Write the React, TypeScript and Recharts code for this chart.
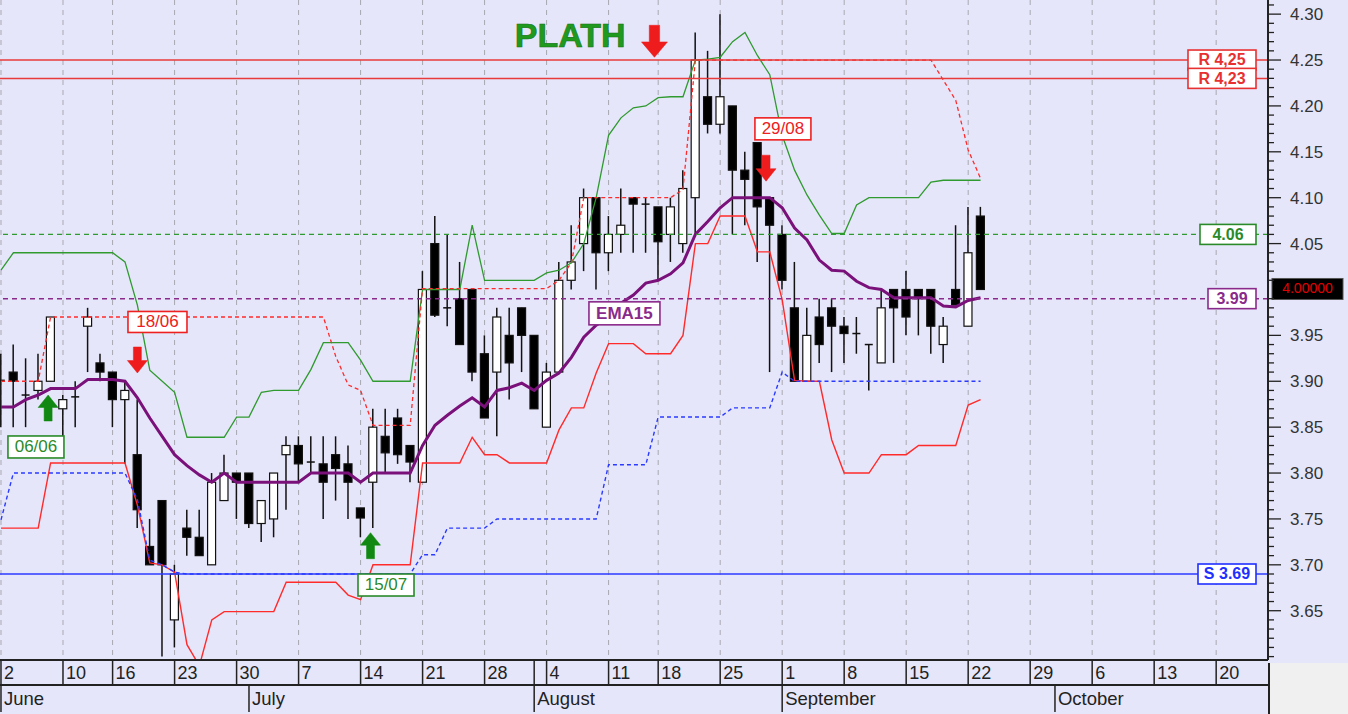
import React from 'react';
import { ComposedChart, Bar, Line, XAxis, YAxis, ReferenceLine, ReferenceDot, CartesianGrid } from 'recharts';

// ---------- data ----------
const opens = [
  3.90, 3.91, 3.885, 3.89, 3.90, 3.87, 3.883, 3.96, 3.92, 3.91,
  3.88, 3.82, 3.72, 3.77, 3.64, 3.74, 3.73, 3.70, 3.77, 3.80,
  3.80, 3.745, 3.75, 3.82, 3.83, 3.812, 3.81, 3.82, 3.81, 3.762,
  3.79, 3.84, 3.86, 3.83, 3.79, 4.05, 3.98, 3.99, 4.00, 3.93,
  3.91, 3.95, 3.98, 3.95, 3.85, 3.91, 4.01, 4.05, 4.10, 4.04,
  4.06, 4.10, 4.093, 4.09, 4.06, 4.05, 4.10, 4.21, 4.18, 4.20,
  4.13, 4.16, 4.10, 4.06, 3.98, 3.90, 3.97, 3.98, 3.96, 3.952,
  3.94, 3.92, 4.00, 4.00, 4.00, 4.00, 3.94, 4.00, 3.96, 4.08,
];
const highs = [
  3.93, 3.94, 3.925, 3.93, 3.97, 3.885, 3.90, 3.98, 3.93, 3.91,
  3.90, 3.88, 3.75, 3.77, 3.70, 3.76, 3.76, 3.80, 3.82, 3.80,
  3.80, 3.77, 3.80, 3.84, 3.84, 3.84, 3.84, 3.84, 3.83, 3.762,
  3.87, 3.87, 3.87, 3.83, 4.02, 4.08, 4.06, 4.03, 4.00, 3.95,
  3.98, 3.98, 3.98, 3.95, 3.92, 4.03, 4.07, 4.11, 4.10, 4.08,
  4.11, 4.10, 4.10, 4.09, 4.10, 4.13, 4.28, 4.26, 4.30, 4.20,
  4.15, 4.16, 4.10, 4.07, 4.03, 3.98, 3.99, 3.99, 3.97, 3.97,
  3.94, 4.00, 4.00, 4.02, 4.00, 4.00, 3.97, 4.07, 4.09, 4.09,
];
const lows = [
  3.85, 3.85, 3.85, 3.88, 3.90, 3.84, 3.85, 3.91, 3.90, 3.85,
  3.81, 3.74, 3.70, 3.60, 3.61, 3.71, 3.71, 3.70, 3.77, 3.75,
  3.74, 3.725, 3.73, 3.76, 3.79, 3.80, 3.75, 3.77, 3.75, 3.73,
  3.74, 3.80, 3.81, 3.79, 3.79, 3.97, 3.96, 3.94, 3.90, 3.86,
  3.84, 3.88, 3.91, 3.87, 3.85, 3.91, 4.00, 4.02, 4.00, 4.02,
  4.04, 4.04, 4.04, 4.01, 4.03, 4.04, 4.06, 4.17, 4.17, 4.06,
  4.07, 4.03, 3.91, 4.00, 3.90, 3.90, 3.92, 3.91, 3.92, 3.93,
  3.89, 3.92, 3.92, 3.95, 3.95, 3.93, 3.92, 3.983, 3.96, 4.00,
];
const closes = [
  3.901, 3.90, 3.885, 3.90, 3.97, 3.88, 3.883, 3.97, 3.91, 3.88,
  3.89, 3.76, 3.70, 3.70, 3.69, 3.73, 3.71, 3.79, 3.80, 3.79,
  3.745, 3.77, 3.80, 3.83, 3.81, 3.812, 3.79, 3.805, 3.79, 3.751,
  3.85, 3.822, 3.82, 3.812, 4.00, 3.972, 3.98, 3.94, 3.91, 3.86,
  3.97, 3.92, 3.95, 3.87, 3.91, 4.01, 4.03, 4.10, 4.04, 4.06,
  4.07, 4.093, 4.093, 4.052, 4.09, 4.11, 4.25, 4.18, 4.21, 4.13,
  4.12, 4.09, 4.07, 4.01, 3.90, 3.95, 3.94, 3.96, 3.952, 3.952,
  3.94, 3.98, 3.98, 3.97, 3.99, 3.96, 3.96, 3.983, 4.04, 4.00,
];
const ema15 = [
  3.872, 3.872, 3.88, 3.885, 3.892, 3.892, 3.892, 3.902, 3.902, 3.902,
  3.90, 3.882, 3.86, 3.84, 3.82, 3.808, 3.798, 3.79, 3.80, 3.79,
  3.79, 3.79, 3.79, 3.79, 3.79, 3.80, 3.80, 3.80, 3.80, 3.79,
  3.80, 3.80, 3.80, 3.80, 3.83, 3.852, 3.863, 3.873, 3.882, 3.872,
  3.89, 3.893, 3.898, 3.89, 3.901, 3.909, 3.926, 3.948, 3.961, 3.97,
  3.985, 3.994, 4.007, 4.01, 4.017, 4.029, 4.06, 4.074, 4.089, 4.10,
  4.10, 4.10, 4.10, 4.089, 4.067, 4.054, 4.032, 4.021, 4.02, 4.009,
  4.002, 4.00, 3.991, 3.991, 3.991, 3.991, 3.982, 3.981, 3.988, 3.991,
];
const upperBand = [
  4.021, 4.04, 4.04, 4.04, 4.04, 4.04, 4.04, 4.04, 4.04, 4.04,
  4.03, 3.983, 3.912, 3.90, 3.888, 3.839, 3.839, 3.839, 3.839, 3.861,
  3.861, 3.888, 3.89, 3.89, 3.89, 3.913, 3.942, 3.942, 3.942, 3.923,
  3.90, 3.90, 3.90, 3.90, 4.00, 4.00, 4.00, 4.00, 4.07, 4.01,
  4.01, 4.01, 4.01, 4.01, 4.018, 4.021, 4.029, 4.05, 4.10, 4.168,
  4.187, 4.198, 4.20, 4.209, 4.21, 4.21, 4.25, 4.251, 4.253, 4.27,
  4.28, 4.255, 4.234, 4.168, 4.13, 4.103, 4.081, 4.061, 4.061, 4.092,
  4.10, 4.10, 4.10, 4.10, 4.10, 4.117, 4.119, 4.119, 4.119, 4.119,
];
const lowerBand = [
  3.74, 3.74, 3.74, 3.74, 3.811, 3.811, 3.811, 3.811, 3.811, 3.811,
  3.811, 3.765, 3.702, 3.70, 3.692, 3.613, 3.59, 3.64, 3.649, 3.649,
  3.649, 3.649, 3.649, 3.681, 3.681, 3.681, 3.681, 3.681, 3.667, 3.662,
  3.70, 3.70, 3.70, 3.70, 3.811, 3.811, 3.811, 3.811, 3.839, 3.82,
  3.82, 3.811, 3.811, 3.811, 3.811, 3.847, 3.871, 3.871, 3.909, 3.941,
  3.941, 3.941, 3.93, 3.93, 3.93, 3.95, 4.05, 4.05, 4.08, 4.08,
  4.08, 4.041, 4.041, 3.989, 3.901, 3.90, 3.90, 3.836, 3.80, 3.80,
  3.80, 3.82, 3.82, 3.82, 3.83, 3.83, 3.83, 3.83, 3.874, 3.88,
];
const highStop = [
  3.90, 3.90, 3.90, 3.90, 3.97, 3.97, 3.97, 3.97, 3.97, 3.97,
  3.97, 3.97, 3.97, 3.97, 3.97, 3.97, 3.97, 3.97, 3.97, 3.97,
  3.97, 3.97, 3.97, 3.97, 3.97, 3.97, 3.97, 3.927, 3.896, 3.89,
  3.852, 3.852, 3.852, 3.852, 4.001, 4.001, 4.001, 4.001, 4.001, 4.001,
  4.001, 4.001, 4.001, 4.001, 4.001, 4.01, 4.029, 4.10, 4.10, 4.10,
  4.10, 4.10, 4.10, 4.10, 4.10, 4.109, 4.25, 4.25, 4.25, 4.25,
  4.25, 4.25, 4.25, 4.25, 4.25, 4.25, 4.25, 4.25, 4.25, 4.25,
  4.25, 4.25, 4.25, 4.25, 4.25, 4.25, 4.228, 4.206, 4.152, 4.121,
];
const lowStop = [
  3.749, 3.80, 3.80, 3.80, 3.80, 3.80, 3.80, 3.80, 3.80, 3.80,
  3.80, 3.771, 3.705, 3.70, 3.692, 3.69, 3.69, 3.69, 3.69, 3.69,
  3.69, 3.69, 3.69, 3.69, 3.69, 3.69, 3.69, 3.69, 3.69, 3.69,
  3.69, 3.69, 3.69, 3.69, 3.711, 3.711, 3.74, 3.74, 3.74, 3.74,
  3.75, 3.75, 3.75, 3.75, 3.75, 3.75, 3.75, 3.75, 3.75, 3.809,
  3.809, 3.809, 3.809, 3.861, 3.861, 3.861, 3.861, 3.861, 3.861, 3.871,
  3.871, 3.871, 3.871, 3.91, 3.90, 3.90, 3.90, 3.90, 3.90, 3.90,
  3.90, 3.90, 3.90, 3.90, 3.90, 3.90, 3.90, 3.90, 3.90, 3.90,
];

// axis ticks (trading-day index of each label)
const dayTicks = [0, 5, 9, 14, 19, 24, 29, 34, 39, 43, 44, 49, 53, 58, 63, 68, 73, 78, 83, 88, 93, 98];
const dayLabels = ['2', '10', '16', '23', '30', '7', '14', '21', '28', '', '4', '11', '18', '25', '1', '8', '15', '22', '29', '6', '13', '20'];
const gridTicks = [0, 5, 9, 14, 19, 24, 29, 34, 39, 44, 49, 53, 58, 63, 68, 73, 78, 83, 88, 93, 98];
const monthTicks = [0, 20, 43, 63, 85];
const monthLabels = ['June', 'July', 'August', 'September', 'October'];
const majorTicks = [3.65, 3.70, 3.75, 3.80, 3.85, 3.90, 3.95, 4.00, 4.05, 4.10, 4.15, 4.20, 4.25, 4.30];
// 4.00 is covered by the last-price box in the original, so it carries no text
const priceLabels = [3.65, 3.70, 3.75, 3.80, 3.85, 3.90, 3.95, 4.05, 4.10, 4.15, 4.20, 4.25, 4.30];

// levels
const resistance1 = 4.25;
const resistance2 = 4.23;
const greenLevel = 4.06;
const purpleLevel = 3.99;
const support = 3.69;
const lastPrice = 4.0;

// ---------- layout ----------
const W = 1348;
const H = 714;
const Y_AXIS_W = 80;
const MARGIN = { top: 0, right: 0, bottom: 2, left: 0 };
const DAY_AXIS_H = 25;
const MONTH_AXIS_H = 27;
const PLOT_RIGHT = W - Y_AXIS_W;
const PLOT_BOTTOM = H - MARGIN.bottom - DAY_AXIS_H - MONTH_AXIS_H;
const X_DOMAIN: [number, number] = [-0.08, 102.18];
const Y_DOMAIN: [number, number] = [3.5963, 4.3154];
const FONT = '"Liberation Sans", Arial, sans-serif';
const BG = '#E6E6FA';

const minorTicks: number[] = [];
for (let k = 360; k <= 431; k++) minorTicks.push(k / 100);

const rows = opens.map((o, i) => ({
  i,
  o,
  h: highs[i],
  l: lows[i],
  c: closes[i],
  range: [lows[i], highs[i]],
  ema: ema15[i],
  upper: upperBand[i],
  lower: lowerBand[i],
  hiStop: highStop[i],
  loStop: lowStop[i],
}));

// ---------- shapes ----------
const Candle = (p: any) => {
  const { x, y, width, height, payload } = p;
  if (x == null || y == null) return null;
  const top = Math.min(y, y + height);
  const bot = Math.max(y, y + height);
  const { o, h, l, c } = payload;
  const k = (bot - top) / (h - l);
  const yv = (v: number) => top + (h - v) * k;
  const cx = x + width / 2;
  const bw = 8;
  const up = c >= o;
  const bTop = yv(Math.max(o, c));
  const bBot = yv(Math.min(o, c));
  const bh = Math.max(1, bBot - bTop);
  return (
    <g>
      <line x1={cx} x2={cx} y1={top} y2={bot} stroke="#111" strokeWidth={1.5} />
      {bBot - bTop < 1.5 ? (
        <line x1={cx - bw / 2} x2={cx + bw / 2} y1={bTop} y2={bTop} stroke="#111" strokeWidth={1.5} />
      ) : (
        <rect x={cx - bw / 2} y={bTop} width={bw} height={bh} fill={up ? '#fff' : '#000'} stroke="#111" strokeWidth={1.2} />
      )}
    </g>
  );
};

const Arrow = ({ cx, cy, dir, color, len = 26, w = 20 }: any) => {
  const headH = len * 0.48;
  const sw = w * 0.4;
  const s = dir === 'down' ? 1 : -1;
  const pts = [
    [cx - sw / 2, cy - s * len],
    [cx + sw / 2, cy - s * len],
    [cx + sw / 2, cy - s * headH],
    [cx + w / 2, cy - s * headH],
    [cx, cy],
    [cx - w / 2, cy - s * headH],
    [cx - sw / 2, cy - s * headH],
  ]
    .map((q) => q.join(','))
    .join(' ');
  return <polygon points={pts} fill={color} stroke={color} strokeWidth={0.5} />;
};

const Box = ({ cx, cy, text, color, w, h = 21, fs = 16, bold = false }: any) => (
  <g>
    <rect x={cx - w / 2} y={cy - h / 2} width={w} height={h} fill="#fff" stroke={color} strokeWidth={1.6} />
    <text x={cx} y={cy + 1} textAnchor="middle" dominantBaseline="middle" fontFamily={FONT} fontSize={fs} fontWeight={bold ? 'bold' : 'normal'} fill={color}>
      {text}
    </text>
  </g>
);

const levelLabel = (text: string, color: string, w: number) => (props: any) => {
  const vb = props.viewBox || {};
  const right = (vb.x || 0) + (vb.width || 0) - 12;
  return <Box cx={right - w / 2} cy={vb.y} text={text} color={color} w={w} h={20} fs={16} bold />;
};

const lastPriceLabel = (props: any) => {
  const vb = props.viewBox || {};
  const x0 = (vb.x || 0) + (vb.width || 0) + 4;
  return (
    <g>
      <rect x={x0} y={vb.y - 11} width={71} height={21} fill="#000" stroke="#555" />
      <text x={x0 + 35.5} y={vb.y} textAnchor="middle" dominantBaseline="middle" fontFamily={FONT} fontSize={14} fill="#e00000">
        {lastPrice.toFixed(5)}
      </text>
    </g>
  );
};

const DayTick = (p: any) => {
  const { x, payload } = p;
  const k = dayTicks.indexOf(payload.value);
  const label = dayLabels[k];
  return (
    <g>
      <line x1={x} x2={x} y1={PLOT_BOTTOM} y2={PLOT_BOTTOM + DAY_AXIS_H} stroke="#222" strokeWidth={1.5} />
      {label ? (
        <text x={x + 3} y={PLOT_BOTTOM + 19} fontFamily={FONT} fontSize={18} fill="#222">
          {label}
        </text>
      ) : null}
    </g>
  );
};

const MonthTick = (p: any) => {
  const { x, payload } = p;
  const k = monthTicks.indexOf(payload.value);
  const y0 = PLOT_BOTTOM + DAY_AXIS_H;
  return (
    <g>
      <line x1={x} x2={x} y1={y0} y2={y0 + MONTH_AXIS_H} stroke="#222" strokeWidth={1.5} />
      <text x={x + 3} y={y0 + 20} fontFamily={FONT} fontSize={18.5} fill="#222">
        {monthLabels[k]}
      </text>
    </g>
  );
};

const PriceTick = (p: any) => {
  const { y, payload } = p;
  const v = payload.value;
  if (Math.abs(v - lastPrice) < 1e-6) return <g />;
  const major = majorTicks.some((m) => Math.abs(m - v) < 1e-6);
  const labelled = priceLabels.some((m) => Math.abs(m - v) < 1e-6);
  return (
    <g>
      <line x1={PLOT_RIGHT} x2={PLOT_RIGHT + (major ? 13 : 6)} y1={y} y2={y} stroke="#222" strokeWidth={1.3} />
      {labelled ? (
        <text x={PLOT_RIGHT + 22} y={y + 6} fontFamily={FONT} fontSize={17} fill="#333">
          {v.toFixed(2)}
        </text>
      ) : null}
    </g>
  );
};

const gridGen = ({ offset }: any) =>
  gridTicks.map((t) => offset.left + ((t - X_DOMAIN[0]) / (X_DOMAIN[1] - X_DOMAIN[0])) * offset.width);

export default function App() {
  return (
    <div style={{ position: 'absolute', left: 0, top: 0, width: W, height: H, background: BG, overflow: 'hidden' }}>
      <div style={{ position: 'absolute', left: PLOT_RIGHT, top: PLOT_BOTTOM + 3, width: W - PLOT_RIGHT, height: H - PLOT_BOTTOM, background: '#f0f0f0', borderLeft: '2px solid #222', boxSizing: 'border-box' }} />
      <div style={{ position: 'absolute', left: 0, top: 0 }}>
        <ComposedChart width={W} height={H} data={rows} margin={MARGIN}>
          <CartesianGrid xAxisId="day" horizontal={false} vertical verticalCoordinatesGenerator={gridGen} stroke="#a8a8b0" strokeDasharray="5 5" />
          <XAxis
            xAxisId="day"
            type="number"
            dataKey="i"
            domain={X_DOMAIN}
            allowDataOverflow
            ticks={dayTicks}
            interval={0}
            tick={<DayTick />}
            tickLine={false}
            axisLine={{ stroke: '#222', strokeWidth: 2 }}
            height={DAY_AXIS_H}
          />
          <XAxis
            xAxisId="month"
            type="number"
            dataKey="i"
            domain={X_DOMAIN}
            allowDataOverflow
            ticks={monthTicks}
            interval={0}
            tick={<MonthTick />}
            tickLine={false}
            axisLine={{ stroke: '#222', strokeWidth: 2 }}
            height={MONTH_AXIS_H}
          />
          <YAxis
            orientation="right"
            type="number"
            domain={Y_DOMAIN}
            allowDataOverflow
            ticks={minorTicks}
            interval={0}
            tick={<PriceTick />}
            tickLine={false}
            axisLine={{ stroke: '#222', strokeWidth: 2 }}
            width={Y_AXIS_W}
          />
          <Bar xAxisId="day" dataKey="range" barSize={8} isAnimationActive={false} shape={(p: any) => <Candle {...p} />} />
          <Line xAxisId="day" type="linear" dataKey="upper" stroke="#2f9a2f" strokeWidth={1.3} dot={false} activeDot={false} isAnimationActive={false} />
          <Line xAxisId="day" type="linear" dataKey="lower" stroke="#ff2a2a" strokeWidth={1.4} dot={false} activeDot={false} isAnimationActive={false} />
          <Line xAxisId="day" type="linear" dataKey="hiStop" stroke="#ff2a2a" strokeWidth={1.3} strokeDasharray="4 3" dot={false} activeDot={false} isAnimationActive={false} />
          <Line xAxisId="day" type="linear" dataKey="loStop" stroke="#2a3aff" strokeWidth={1.4} strokeDasharray="4 3" dot={false} activeDot={false} isAnimationActive={false} />
          <Line xAxisId="day" type="linear" dataKey="ema" stroke="#7a117a" strokeWidth={3} dot={false} activeDot={false} isAnimationActive={false} />
          <ReferenceLine xAxisId="day" y={resistance1} stroke="#e83a3a" strokeWidth={1.5} label={{ content: levelLabel('R 4,25', '#e83030', 68) }} />
          <ReferenceLine xAxisId="day" y={resistance2} stroke="#e83a3a" strokeWidth={1.5} label={{ content: levelLabel('R 4,23', '#e83030', 68) }} />
          <ReferenceLine xAxisId="day" y={greenLevel} stroke="#2f9a2f" strokeWidth={1.3} strokeDasharray="5 4" label={{ content: levelLabel('4.06', '#2a8a2a', 56) }} />
          <ReferenceLine xAxisId="day" y={purpleLevel} stroke="#8a2a8a" strokeWidth={1.5} strokeDasharray="5 4" label={{ content: levelLabel('3.99', '#8a2a8a', 48) }} />
          <ReferenceLine xAxisId="day" y={support} stroke="#2a3aff" strokeWidth={1.5} label={{ content: levelLabel('S 3.69', '#2030ff', 58) }} />
          <ReferenceLine xAxisId="day" y={lastPrice} stroke="none" label={{ content: lastPriceLabel }} />
          <ReferenceDot xAxisId="day" x={45.9} y={4.274} r={0} isFront shape={(p: any) => (
            <text x={p.cx} y={p.cy} textAnchor="middle" dominantBaseline="middle" fontFamily={FONT} fontSize={34} fontWeight="bold" fill="#1f9a1f" stroke="#137013" strokeWidth={0.6}>PLATH</text>
          )} />
          <ReferenceDot xAxisId="day" x={52.7} y={4.253} r={0} shape={(p: any) => <Arrow cx={p.cx} cy={p.cy} dir="down" color="#ee1c1c" len={32} w={26} />} />
          <ReferenceDot xAxisId="day" x={3.8} y={3.885} r={0} shape={(p: any) => <Arrow cx={p.cx} cy={p.cy} dir="up" color="#118811" />} />
          <ReferenceDot xAxisId="day" x={11} y={3.909} r={0} shape={(p: any) => <Arrow cx={p.cx} cy={p.cy} dir="down" color="#ee1c1c" />} />
          <ReferenceDot xAxisId="day" x={29.8} y={3.735} r={0} shape={(p: any) => <Arrow cx={p.cx} cy={p.cy} dir="up" color="#118811" />} />
          <ReferenceDot xAxisId="day" x={61.7} y={4.118} r={0} shape={(p: any) => <Arrow cx={p.cx} cy={p.cy} dir="down" color="#ee1c1c" />} />
          <ReferenceDot xAxisId="day" x={2.82} y={3.8284} r={0} shape={(p: any) => <Box cx={p.cx} cy={p.cy} text="06/06" color="#2a8a2a" w={56} h={22} fs={17} />} />
          <ReferenceDot xAxisId="day" x={12.62} y={3.9646} r={0} shape={(p: any) => <Box cx={p.cx} cy={p.cy} text="18/06" color="#ee2020" w={59} h={21} fs={17} />} />
          <ReferenceDot xAxisId="day" x={31.05} y={3.678} r={0} shape={(p: any) => <Box cx={p.cx} cy={p.cy} text="15/07" color="#2a8a2a" w={56} h={22} fs={17} />} />
          <ReferenceDot xAxisId="day" x={63.06} y={4.175} r={0} shape={(p: any) => <Box cx={p.cx} cy={p.cy} text="29/08" color="#ee2020" w={56} h={22} fs={17} />} />
          <ReferenceDot xAxisId="day" x={50.28} y={3.974} r={0} shape={(p: any) => <Box cx={p.cx} cy={p.cy} text="EMA15" color="#8a2a8a" w={71} h={23} fs={17} bold />} />
        </ComposedChart>
      </div>
    </div>
  );
}
